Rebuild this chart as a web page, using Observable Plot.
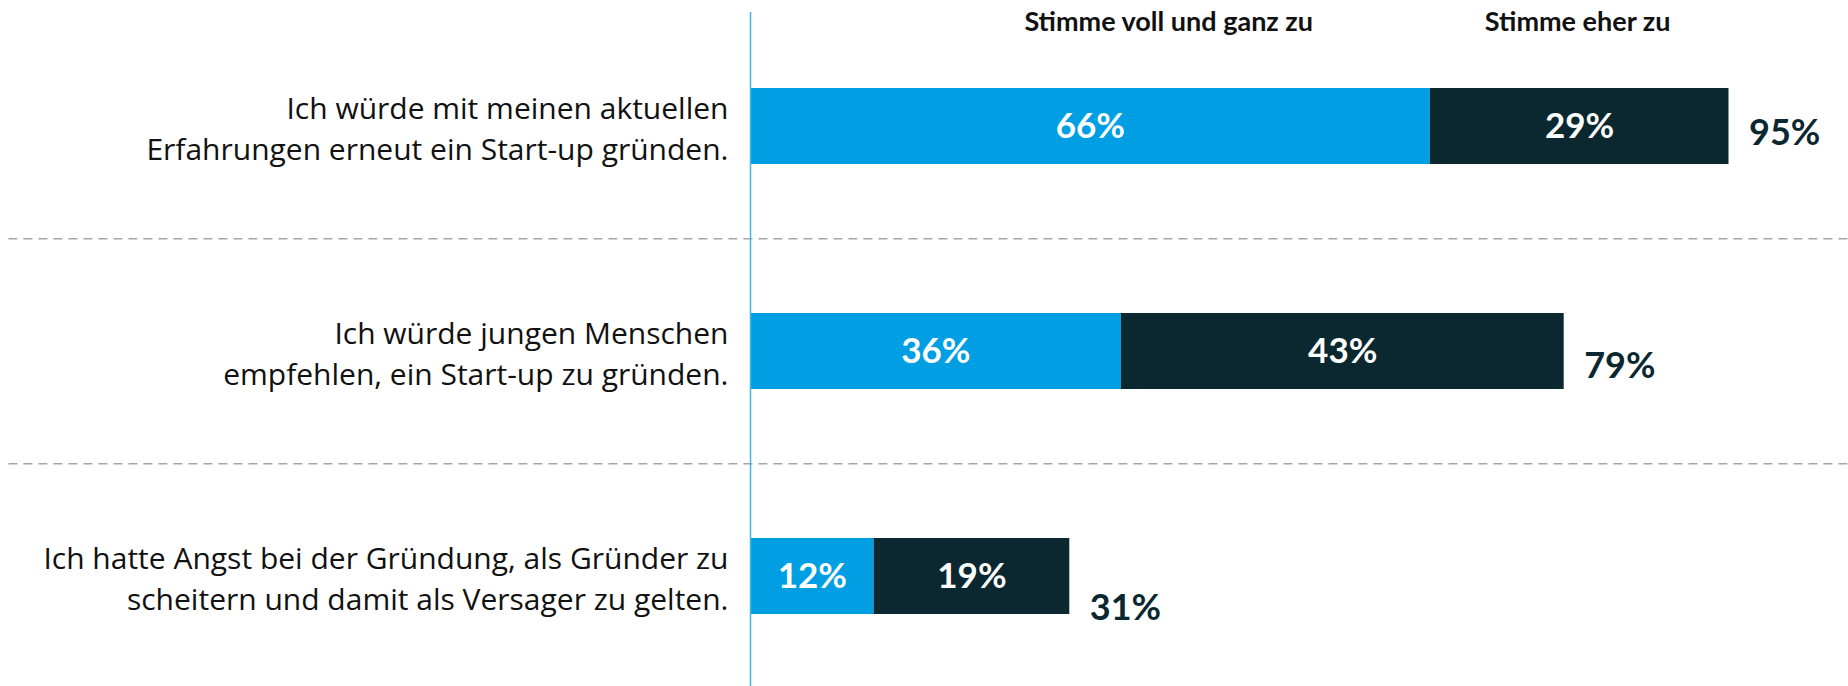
<!DOCTYPE html>
<html><head><meta charset="utf-8">
<script src="https://cdn.jsdelivr.net/npm/d3@7"></script>
<script src="https://cdn.jsdelivr.net/npm/@observablehq/plot@0.6"></script>
<style>html,body{margin:0;padding:0;background:#fff}</style>
</head><body><div id="chart"></div>
<script>
const categories = [
  "Ich würde mit meinen aktuellen\nErfahrungen erneut ein Start-up gründen.",
  "Ich würde jungen Menschen\nempfehlen, ein Start-up zu gründen.",
  "Ich hatte Angst bei der Gründung, als Gründer zu\nscheitern und damit als Versager zu gelten."
];
const series = ["Stimme voll und ganz zu", "Stimme eher zu"];
const vollUndGanz = [66, 36, 12];
const eherZu = [29, 43, 19];
const totals = [95, 79, 31];

const rows = [];
categories.forEach((c, i) => {
  rows.push({cat: c, series: series[0], value: vollUndGanz[i]});
  rows.push({cat: c, series: series[1], value: eherZu[i]});
});
const totalRows = categories.map((c, i) => ({cat: c, total: totals[i]}));

const W = 1848, H = 686;
const pInner = 0.663, pOuter = 0.386, yRange = [0, 701];
const step = (yRange[1] - yRange[0]) / (categories.length - pInner + 2 * pOuter);
const font = "Lato, 'Open Sans', sans-serif";
const totalDy = [7, 15, 32];

const marks = [
  Plot.ruleY(categories.slice(1), {y: d => d, x1: -72, x2: 107, dy: -step / 2, stroke: "#a6a6a6", strokeWidth: 1.5, strokeDasharray: "9,6"}),
  Plot.barX(rows, Plot.stackX({x: "value", y: "cat", fill: "series"})),
  Plot.text(rows, Plot.stackX({x: "value", y: "cat", z: "series", text: d => d.value + "%", fill: "white", fontSize: 35, fontWeight: "bold"})),
  Plot.ruleX([0], {stroke: "#45b5e8", strokeWidth: 1.5}),
  Plot.text(totalRows, {x: 0, y: "cat", text: "cat", textAnchor: "end", dx: -22, fontSize: 30, lineHeight: 1.36, fill: "#111", fontFamily: "'Open Sans', Lato, sans-serif"}),
  Plot.text(series, {x: [40.6, 80.3], text: d => d, frameAnchor: "top", lineAnchor: "middle", dy: 10, fontSize: 27, fontWeight: "bold", fill: "#111"})
];
totalRows.forEach((r, i) => {
  marks.push(Plot.text([r], {x: "total", y: "cat", text: d => d.total + "%", textAnchor: "start", dx: 20, dy: totalDy[i], fontSize: 36, fontWeight: "bold", fill: "#0b2730"}));
});

const chart = Plot.plot({
  width: W, height: H,
  marginLeft: 750, marginRight: 68, marginTop: 12, marginBottom: 0,
  style: {fontFamily: font, background: "#fff"},
  x: {domain: [0, 100], axis: null},
  y: {domain: categories, range: yRange, paddingInner: pInner, paddingOuter: pOuter, axis: null},
  color: {domain: series, range: ["#009fe3", "#0b2730"]},
  marks
});
document.getElementById("chart").appendChild(chart);
</script>
</body></html>
